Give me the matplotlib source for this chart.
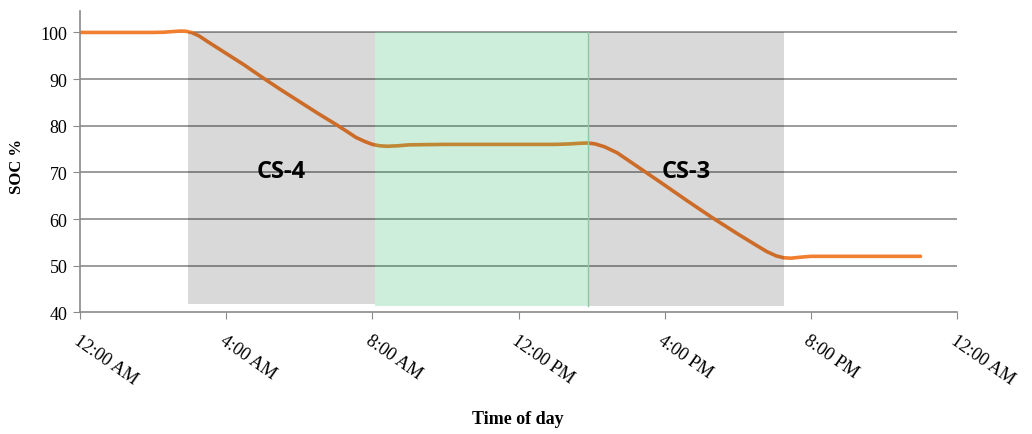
import matplotlib.pyplot as plt

# SOC over the day (hours since midnight)
hours = [0, 1, 2, 2.3, 2.55, 2.75, 2.9, 3.05, 3.25, 3.5, 4.0, 4.5, 5.0, 5.5, 6.0, 6.5,
         7.0, 7.3, 7.55, 7.8, 8.0, 8.2, 8.4, 8.7, 9.0, 10, 11, 12, 13, 13.4, 13.7,
         13.9, 14.1, 14.35, 14.7, 15.0, 15.9, 16.6, 17.3, 18.0, 18.5, 18.8, 19.05,
         19.25, 19.45, 19.7, 20.0, 21, 22, 23]
soc = [100, 100, 100, 100.05, 100.2, 100.3, 100.25, 100.0, 99.3, 98.0, 95.5, 93.0,
       90.3, 87.7, 85.2, 82.7, 80.3, 78.8, 77.5, 76.6, 76.0, 75.7, 75.6, 75.7, 75.9,
       76.0, 76.0, 76.0, 76.0, 76.1, 76.25, 76.3, 76.1, 75.5, 74.2, 72.6, 67.8, 64.0,
       60.3, 56.8, 54.4, 53.0, 52.1, 51.7, 51.6, 51.8, 52.0, 52, 52, 52]

# shaded charging-station windows: (start h, end h, bottom SOC)
cs4_span = (2.96, 8.07, 41.8)
green_span = (8.07, 13.9, 41.4)
cs3_span = (13.9, 19.26, 41.4)

tick_hours = [0, 4, 8, 12, 16, 20, 24]
tick_labels = ["12:00 AM", "4:00 AM", "8:00 AM", "12:00 PM", "4:00 PM", "8:00 PM", "12:00 AM"]

fig = plt.figure(figsize=(10.32, 4.35), dpi=100)
ax = fig.add_axes([80 / 1032, 1 - 313.3 / 435, 877 / 1032, (313.3 - 12) / 435])

for y in range(50, 101, 10):
    ax.axhline(y, color="#8a8a8a", lw=1.2, zorder=1)

ax.plot(hours, soc, color="#F08030", lw=2.6, solid_capstyle="round",
        solid_joinstyle="round", zorder=2)

for (x0, x1, y0), col, a in [(cs4_span, "black", 0.15), (green_span, "#00aa46", 0.2),
                             (cs3_span, "black", 0.15)]:
    ax.fill_between([x0, x1], y0, 100, color=col, alpha=a, lw=0, zorder=3)
ax.plot([green_span[1], green_span[1]], [green_span[2], 100], color="#8fc9a4", lw=1, zorder=3)

ax.text(5.5, 70.2, "CS-4", fontsize=17, fontweight="bold", family="Open Sans",
        ha="center", va="center", zorder=4)
ax.text(16.6, 70.4, "CS-3", fontsize=17, fontweight="bold", family="Open Sans",
        ha="center", va="center", zorder=4)

ax.set_xlim(0, 24)
ax.set_ylim(40, 104.6)
ax.set_yticks(range(40, 101, 10))
ax.set_xticks(tick_hours)
ax.set_xticklabels(tick_labels, rotation=-35, ha="left", va="top", rotation_mode="anchor",
                   family="Liberation Serif", fontsize=13)
for lab in ax.get_yticklabels():
    lab.set_family("Liberation Serif")
    lab.set_fontsize(13)

for s in ["top", "right"]:
    ax.spines[s].set_visible(False)
ax.spines["left"].set_color("#8a8a8a")
ax.spines["bottom"].set_color("#8a8a8a")
ax.spines["left"].set_linewidth(1.2)
ax.spines["bottom"].set_linewidth(1.2)
ax.tick_params(axis="x", direction="out", length=5, color="#8a8a8a", pad=9)
ax.tick_params(axis="y", direction="out", length=5, color="#8a8a8a", pad=4)

fig.text(518 / 1032, 1 - 420 / 435, "Time of day", family="Liberation Serif",
         fontweight="bold", fontsize=13, ha="center", va="center")
fig.text(17 / 1032, 1 - 166 / 435, "SOC %", family="Liberation Serif",
         fontweight="bold", fontsize=12, ha="center", va="center", rotation=90)

fig.savefig("out.png", dpi=100)
